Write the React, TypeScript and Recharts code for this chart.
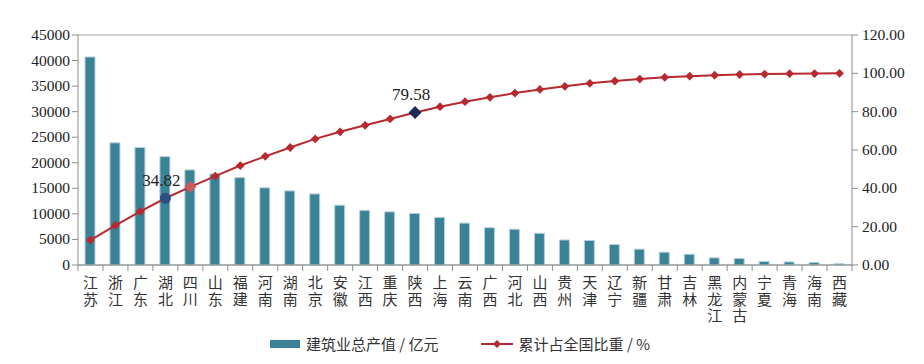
import React from 'react';
import {
  ComposedChart,
  Bar,
  Line,
  XAxis,
  YAxis,
  CartesianGrid,
  LabelList,
} from 'recharts';

const provinces = [
  '江苏', '浙江', '广东', '湖北', '四川', '山东', '福建', '河南', '湖南', '北京', '安徽',
  '江西', '重庆', '陕西', '上海', '云南', '广西', '河北', '山西', '贵州', '天津', '辽宁',
  '新疆', '甘肃', '吉林', '黑龙江', '内蒙古', '宁夏', '青海', '海南', '西藏',
];

// 建筑业总产值 / 亿元
const outputValue = [
  40700, 23900, 23000, 21200, 18600, 17800, 17100, 15100, 14500, 13900, 11700,
  10700, 10400, 10100, 9300, 8200, 7300, 7000, 6200, 4900, 4800, 4000,
  3100, 2500, 2100, 1400, 1300, 700, 600, 500, 250,
];

// 累计占全国比重 / %
const cumShare = [
  13.0, 20.7, 28.0, 34.82, 40.8, 46.4, 51.9, 56.7, 61.3, 65.8, 69.5,
  72.9, 76.2, 79.58, 82.6, 85.2, 87.5, 89.7, 91.6, 93.2, 94.8, 96.0,
  97.0, 97.9, 98.5, 99.0, 99.4, 99.6, 99.8, 99.9, 100,
];

const leftTicks = [0, 5000, 10000, 15000, 20000, 25000, 30000, 35000, 40000, 45000];
const rightTicks = [0, 20, 40, 60, 80, 100, 120];
const labelledPoints = ['湖北', '陕西'];

const data = provinces.map((name, i) => ({
  name,
  value: outputValue[i],
  share: cumShare[i],
}));

const BAR = '#3a8296';
const LINE = '#b8292f';
const AXIS = '#8c8c8c';
const numFont = '"Liberation Serif", serif';
const cjkFont = '"Noto Sans CJK SC", sans-serif';

const PLOT_LEFT = 78;
const PLOT_RIGHT = 852;
const PLOT_BOTTOM = 265;
const BAND = (PLOT_RIGHT - PLOT_LEFT) / provinces.length;

function CategoryTick(props: any) {
  const { x, payload, index } = props;
  return (
    <g>
      <line x1={x - BAND / 2} x2={x - BAND / 2} y1={PLOT_BOTTOM} y2={PLOT_BOTTOM + 6} stroke={AXIS} />
      {index === provinces.length - 1 ? (
        <line x1={x + BAND / 2} x2={x + BAND / 2} y1={PLOT_BOTTOM} y2={PLOT_BOTTOM + 6} stroke={AXIS} />
      ) : null}
      {/* labels run top to bottom, one character per row */}
      <text
        x={x}
        y={275}
        fontSize={15}
        fill="#333"
        style={{ writingMode: 'vertical-rl', fontFamily: cjkFont, letterSpacing: 1.5 }}
      >
        {payload.value}
      </text>
    </g>
  );
}

function LeftTick(props: any) {
  const { x, y, payload } = props;
  return (
    <text x={x} y={y + 5} textAnchor="end" fontSize={15.5} fill="#222" style={{ fontFamily: numFont }}>
      {payload.value}
    </text>
  );
}

function RightTick(props: any) {
  const { x, y, payload } = props;
  return (
    <text x={x + 2} y={y + 5} textAnchor="start" fontSize={15.5} fill="#222" style={{ fontFamily: numFont }}>
      {Number(payload.value).toFixed(2)}
    </text>
  );
}

function ShareDot(props: any) {
  const { cx, cy, index } = props;
  if (cx == null || cy == null) return null;
  const diamond = (h: number, color: string) => (
    <path
      key={index}
      d={`M${cx},${cy - h} L${cx + h},${cy} L${cx},${cy + h} L${cx - h},${cy} Z`}
      fill={color}
    />
  );
  if (index === 3) return <circle key={index} cx={cx} cy={cy} r={5.5} fill="#2c4f88" />;
  if (index === 4) return diamond(6, '#c95a5c');
  if (index === 13) return diamond(6.5, '#1f2a57');
  return diamond(4.4, LINE);
}

function PointLabel(props: any) {
  const { x, y, value, index } = props;
  if (!labelledPoints.includes(provinces[index])) return null;
  return (
    <text x={x - 4} y={y - 12} textAnchor="middle" fontSize={17} fill="#222" style={{ fontFamily: numFont }}>
      {Number(value).toFixed(2)}
    </text>
  );
}

export default function App() {
  return (
    <div
      style={{
        position: 'absolute',
        left: 0,
        top: 0,
        width: 924,
        height: 364,
        background: '#fff',
        fontFamily: numFont,
      }}
    >
      <ComposedChart
        width={924}
        height={364}
        data={data}
        margin={{ top: 35, right: 0, left: 0, bottom: 0 }}
        barSize={10}
      >
        <CartesianGrid vertical={false} stroke="#a6a6a6" strokeWidth={1} />
        <XAxis
          dataKey="name"
          interval={0}
          height={99}
          tickLine={false}
          axisLine={{ stroke: AXIS }}
          tick={<CategoryTick />}
        />
        <YAxis
          yAxisId="left"
          width={78}
          domain={[0, 45000]}
          ticks={leftTicks}
          interval={0}
          axisLine={{ stroke: AXIS }}
          tickLine={{ stroke: AXIS }}
          tickSize={6}
          tick={<LeftTick />}
        />
        <YAxis
          yAxisId="right"
          orientation="right"
          width={72}
          domain={[0, 120]}
          ticks={rightTicks}
          interval={0}
          axisLine={{ stroke: AXIS }}
          tickLine={{ stroke: AXIS }}
          tickSize={6}
          tick={<RightTick />}
        />
        <Bar
          yAxisId="left"
          dataKey="value"
          fill={BAR}
          stroke="#b7d0dc"
          strokeWidth={1}
          isAnimationActive={false}
        />
        <Line
          yAxisId="right"
          dataKey="share"
          stroke={LINE}
          strokeWidth={2}
          dot={<ShareDot />}
          activeDot={false}
          isAnimationActive={false}
        >
          <LabelList dataKey="share" content={<PointLabel />} />
        </Line>
      </ComposedChart>
      <div
        style={{
          position: 'absolute',
          top: 333,
          left: 270,
          display: 'flex',
          alignItems: 'center',
          fontFamily: cjkFont,
          fontSize: 15,
          color: '#333',
          whiteSpace: 'nowrap',
        }}
      >
        <span style={{ display: 'inline-block', width: 30, height: 8, background: BAR, marginRight: 6 }} />
        <span>建筑业总产值 / 亿元</span>
        <svg width={32} height={12} style={{ marginLeft: 42, marginRight: 6 }}>
          <line x1={0} y1={6} x2={32} y2={6} stroke={LINE} strokeWidth={2} />
          <path d="M16,2 L20,6 L16,10 L12,6 Z" fill={LINE} />
        </svg>
        <span>累计占全国比重 / %</span>
      </div>
    </div>
  );
}
